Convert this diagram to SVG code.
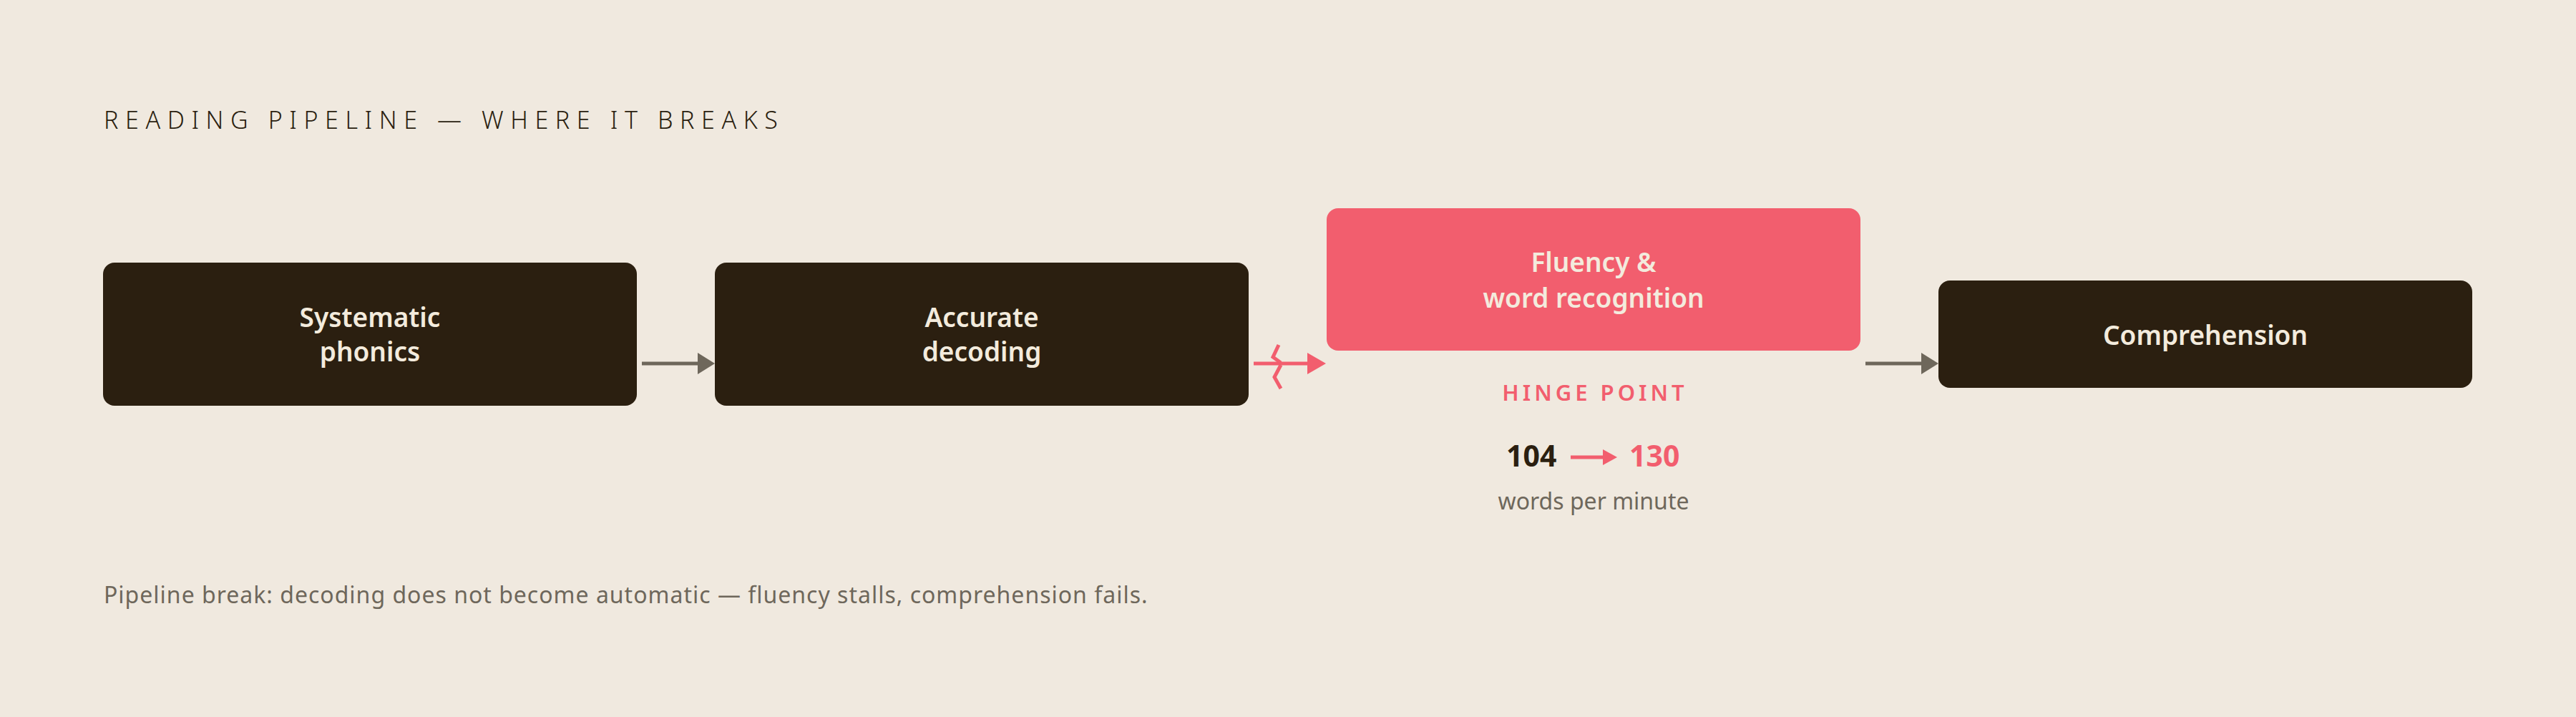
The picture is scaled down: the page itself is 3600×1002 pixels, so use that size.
<svg xmlns="http://www.w3.org/2000/svg" width="3600" height="1002" viewBox="0 0 3600 1002">
<defs>
<style>
.bg{fill:#f0e9df}
.dark{fill:#2b1f10}
.pink{fill:#f25e6e}
.lbl{font-family:"Noto Sans","Open Sans",sans-serif;font-weight:600;font-size:37px;fill:#f3ebdd;text-anchor:middle}
.title{font-family:"Noto Sans","Open Sans",sans-serif;font-weight:300;font-size:34px;fill:#2b1f10;letter-spacing:9.6px}
.hinge{font-family:"Noto Sans","Open Sans",sans-serif;font-weight:600;font-size:31px;fill:#f25e6e;letter-spacing:5px;text-anchor:middle}
.num{font-family:"Noto Sans","Open Sans",sans-serif;font-weight:700;font-size:41px}
.sub{font-family:"Noto Sans","Open Sans",sans-serif;font-weight:400;font-size:32px;fill:#6e675b}
.foot{font-family:"Noto Sans","Open Sans",sans-serif;font-weight:400;font-size:32px;fill:#6e675b;letter-spacing:1px}
.conn{stroke:#6e675b;stroke-width:5;fill:none}
.connp{stroke:#f25e6e;stroke-width:5;fill:none}
</style>
</defs>
<rect class="bg" x="0" y="0" width="3600" height="1002"/>
<text class="title" x="145" y="180">READING PIPELINE — WHERE IT BREAKS</text>

<g id="connectors">
<line class="conn" x1="897" y1="508" x2="977" y2="508"/>
<polygon fill="#6e675b" points="975,493 999,508 975,523"/>
<line class="connp" x1="1752" y1="508" x2="1830" y2="508"/>
<polygon class="pink" points="1827,493 1853,508 1827,523"/>
<polyline class="connp" stroke-width="4" points="1787,482 1779,499 1790,507"/>
<polyline class="connp" stroke-width="4" points="1790,510 1781,527 1790,543"/>
<line class="conn" x1="2607" y1="508" x2="2687" y2="508"/>
<polygon fill="#6e675b" points="2685,493 2709,508 2685,523"/>
</g>

<g id="node-phonics">
<rect class="dark" x="144" y="367" width="746" height="200" rx="16"/>
<text class="lbl" x="517" y="457">Systematic</text>
<text class="lbl" x="517" y="505">phonics</text>
</g>
<g id="node-decoding">
<rect class="dark" x="999" y="367" width="746" height="200" rx="16"/>
<text class="lbl" x="1372" y="457">Accurate</text>
<text class="lbl" x="1372" y="505">decoding</text>
</g>
<g id="node-fluency">
<rect class="pink" x="1854" y="291" width="746" height="199" rx="16"/>
<text class="lbl" x="2227" y="380">Fluency &amp;</text>
<text class="lbl" x="2227" y="430">word recognition</text>
</g>
<g id="node-comprehension">
<rect class="dark" x="2709" y="392" width="746" height="150" rx="16"/>
<text class="lbl" x="3082" y="482">Comprehension</text>
</g>

<g id="hinge">
<text class="hinge" x="2229" y="560">HINGE POINT</text>
<text class="num" x="2105" y="652" fill="#2b1f10">104</text>
<line class="connp" x1="2195" y1="639" x2="2242" y2="639"/>
<polygon class="pink" points="2240,628 2260,639 2240,650"/>
<text class="num" x="2277" y="652" fill="#f25e6e">130</text>
<text class="sub" x="2227" y="712" text-anchor="middle">words per minute</text>
</g>

<text class="foot" x="145" y="843">Pipeline break: decoding does not become automatic — fluency stalls, comprehension fails.</text>
</svg>
